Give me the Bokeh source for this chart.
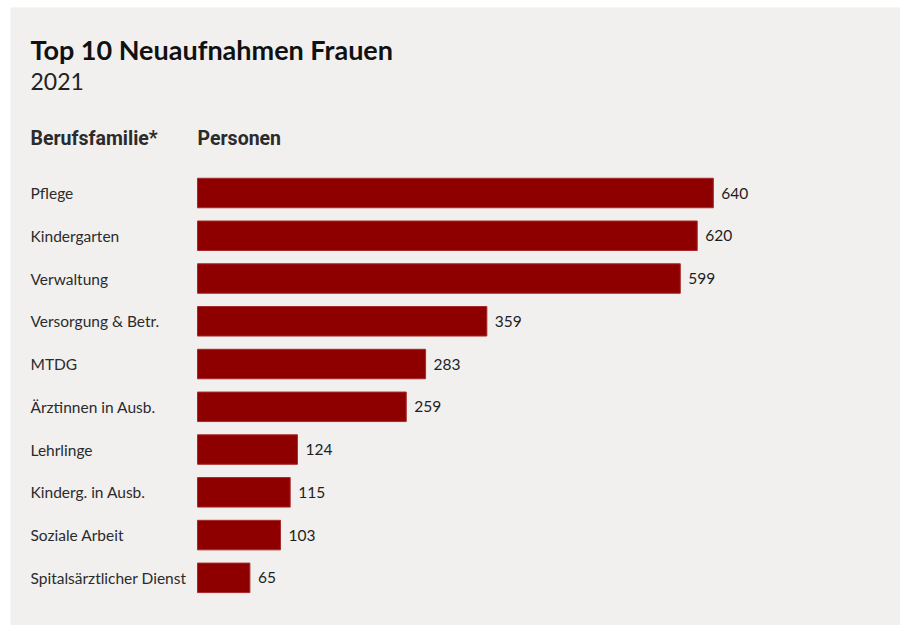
from bokeh.plotting import figure
from bokeh.models import ColumnDataSource, Range1d, Label
from bokeh.core.properties import value
from bokeh.embed import file_html
from bokeh.resources import INLINE

# ---- data ----
categories = ["Pflege", "Kindergarten", "Verwaltung", "Versorgung & Betr.", "MTDG",
              "Ärztinnen in Ausb.", "Lehrlinge", "Kinderg. in Ausb.", "Soziale Arbeit",
              "Spitalsärztlicher Dienst"]
personen = [640, 620, 599, 359, 283, 259, 124, 115, 103, 65]
title_text = "Top 10 Neuaufnahmen Frauen"
subtitle_text = "2021"
col_headers = ["Berufsfamilie*", "Personen"]

# ---- layout ----
OX, OY = 10, 7     # page position of the figure
W, H = 890, 618
BG = "#f1f0ef"
BAR = "#8e0000"
K = 0.806          # px per unit
X0 = 197           # screen x of value 0
ROW0 = 192.5       # screen y of first row centre
STEP = 42.76       # px per row

def px_x(sx):
    return (sx - X0) / K

def px_y(sy):
    return (sy - ROW0) / STEP

xs = px_x(OX)
xe = px_x(OX + W)
y_top = px_y(OY)
y_bot = px_y(OY + H)

p = figure(width=W, height=H, output_backend="svg", toolbar_location=None,
           x_range=Range1d(xs, xe), y_range=Range1d(y_bot, y_top),
           min_border=0, background_fill_color=BG, border_fill_color=BG,
           margin=(OY, 0, 0, OX))
p.outline_line_color = None
p.axis.visible = False
p.grid.visible = False

src = ColumnDataSource(dict(
    cat=categories,
    val=personen,
    row=list(range(len(categories))),
    lab=[str(v) for v in personen],
))

p.hbar(y="row", left=0, right="val", height=0.69, source=src,
       fill_color=BAR, line_color="#a82a2a", line_width=1)

label_font = value("Lato")
p.text(x=px_x(30), y="row", text="cat", source=src, text_align="left",
       text_baseline="middle", text_font=label_font, text_font_size="15.5px",
       text_color="#2b2b2b")
p.text(x="val", y="row", text="lab", source=src, x_offset=8, text_align="left",
       text_baseline="middle", text_font=label_font, text_font_size="15.5px",
       text_color="#1e1e1e")

p.add_layout(Label(x=px_x(30), y=px_y(48.5), text=title_text, text_font="Lato",
                   text_font_style="bold", text_font_size="27px", text_color="#111111",
                   text_baseline="alphabetic"))
p.add_layout(Label(x=px_x(30), y=px_y(81), text=subtitle_text, text_font="Lato",
                   text_font_size="23px", text_color="#222222",
                   text_baseline="alphabetic"))
p.add_layout(Label(x=px_x(30), y=px_y(138), text=col_headers[0], text_font="Roboto",
                   text_font_style="bold", text_font_size="19.5px", text_color="#2b2b2b",
                   text_baseline="alphabetic"))
p.add_layout(Label(x=px_x(197), y=px_y(138), text=col_headers[1], text_font="Roboto",
                   text_font_style="bold", text_font_size="19.5px", text_color="#2b2b2b",
                   text_baseline="alphabetic"))

open("out.html", "w").write(file_html(p, INLINE))
